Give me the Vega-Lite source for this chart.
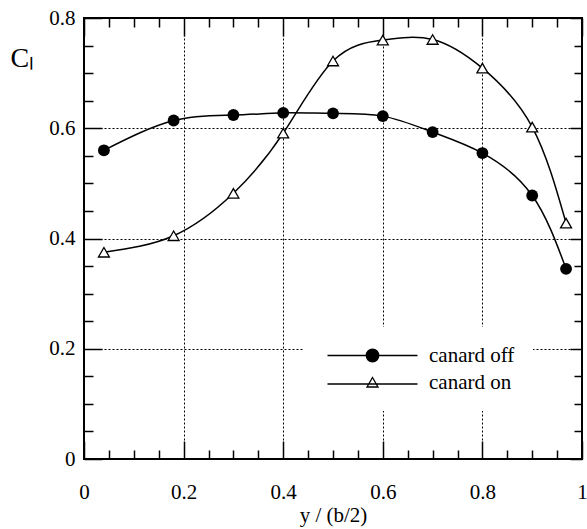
{
  "$schema": "https://vega.github.io/schema/vega-lite/v6.json",
  "width": 498,
  "height": 441,
  "autosize": {"type": "none"},
  "padding": {"left": 84, "top": 18, "right": 5, "bottom": 70},
  "background": "white",
  "config": {
    "view": {"stroke": "black", "strokeWidth": 2},
    "font": "Liberation Serif",
    "axis": {
      "domain": false,
      "labelFont": "Liberation Serif",
      "titleFont": "Liberation Serif",
      "labelFontSize": 21,
      "titleFontSize": 21,
      "titleFontWeight": "normal",
      "labelColor": "black",
      "titleColor": "black",
      "tickColor": "black",
      "tickWidth": 1.5,
      "gridColor": "black",
      "gridDash": [2, 2],
      "gridWidth": 1
    }
  },
  "data": {
    "values": [
      {"series": "canard off", "x": 0.04, "y": 0.56},
      {"series": "canard off", "x": 0.18, "y": 0.614},
      {"series": "canard off", "x": 0.3, "y": 0.624},
      {"series": "canard off", "x": 0.4, "y": 0.628},
      {"series": "canard off", "x": 0.5, "y": 0.627},
      {"series": "canard off", "x": 0.6, "y": 0.622},
      {"series": "canard off", "x": 0.7, "y": 0.593},
      {"series": "canard off", "x": 0.8, "y": 0.555},
      {"series": "canard off", "x": 0.9, "y": 0.478},
      {"series": "canard off", "x": 0.968, "y": 0.345},
      {"series": "canard on", "x": 0.04, "y": 0.375},
      {"series": "canard on", "x": 0.18, "y": 0.405},
      {"series": "canard on", "x": 0.3, "y": 0.482},
      {"series": "canard on", "x": 0.4, "y": 0.591},
      {"series": "canard on", "x": 0.5, "y": 0.722},
      {"series": "canard on", "x": 0.6, "y": 0.76},
      {"series": "canard on", "x": 0.7, "y": 0.761},
      {"series": "canard on", "x": 0.8, "y": 0.709},
      {"series": "canard on", "x": 0.9, "y": 0.602},
      {"series": "canard on", "x": 0.968, "y": 0.428}
    ]
  },
  "resolve": {"axis": {"x": "independent", "y": "independent"}},
  "layer": [
    {
      "mark": {"type": "line", "interpolate": "natural", "color": "black", "strokeWidth": 1.5},
      "encoding": {
        "x": {
          "field": "x", "type": "quantitative",
          "scale": {"domain": [0, 1], "nice": false},
          "axis": {
            "orient": "bottom",
            "title": "y / (b/2)",
            "values": [0, 0.05, 0.1, 0.15, 0.2, 0.25, 0.3, 0.35, 0.4, 0.45, 0.5, 0.55, 0.6, 0.65, 0.7, 0.75, 0.8, 0.85, 0.9, 0.95, 1],
            "labelExpr": "round(datum.value*20)%4==0 ? '' + round(datum.value*10)/10 : ''",
            "tickSize": {"condition": {"test": "round(datum.value*20)%4==0", "value": -18}, "value": -9},
            "grid": true,
            "gridOpacity": {"condition": {"test": "round(datum.value*20)%4==0 && datum.value > 0.01 && datum.value < 0.99", "value": 1}, "value": 0},
            "labelPadding": 40,
            "labelFlush": false,
            "labelOverlap": false,
            "titlePadding": -7
          }
        },
        "y": {
          "field": "y", "type": "quantitative",
          "scale": {"domain": [0, 0.8], "nice": false},
          "axis": {
            "orient": "left",
            "title": "Cₗ",
            "titleAngle": 0,
            "titleFontSize": 28,
            "titleAlign": "left",
            "titleBaseline": "middle",
            "titleX": -74,
            "titleY": 40,
            "values": [0, 0.05, 0.1, 0.15, 0.2, 0.25, 0.3, 0.35, 0.4, 0.45, 0.5, 0.55, 0.6, 0.65, 0.7, 0.75, 0.8],
            "labelExpr": "round(datum.value*20)%4==0 ? '' + round(datum.value*10)/10 : ''",
            "tickSize": {"condition": {"test": "round(datum.value*20)%4==0", "value": -18}, "value": -9},
            "grid": true,
            "gridOpacity": {"condition": {"test": "round(datum.value*20)%4==0 && datum.value > 0.01 && datum.value < 0.79", "value": 1}, "value": 0},
            "labelPadding": 27,
            "labelFlush": false,
            "labelOverlap": false
          }
        },
        "detail": {"field": "series"}
      }
    },
    {
      "transform": [{"filter": "datum.series == 'canard off'"}],
      "mark": {"type": "point", "shape": "circle", "filled": true, "color": "black", "size": 140, "opacity": 1},
      "encoding": {
        "x": {
          "field": "x", "type": "quantitative",
          "axis": {
            "orient": "top",
            "title": null,
            "labels": false,
            "grid": false,
            "values": [0, 0.05, 0.1, 0.15, 0.2, 0.25, 0.3, 0.35, 0.4, 0.45, 0.5, 0.55, 0.6, 0.65, 0.7, 0.75, 0.8, 0.85, 0.9, 0.95, 1],
            "tickSize": {"condition": {"test": "round(datum.value*20)%4==0", "value": -18}, "value": -9}
          }
        },
        "y": {
          "field": "y", "type": "quantitative",
          "axis": {
            "orient": "right",
            "title": null,
            "labels": false,
            "grid": false,
            "values": [0, 0.05, 0.1, 0.15, 0.2, 0.25, 0.3, 0.35, 0.4, 0.45, 0.5, 0.55, 0.6, 0.65, 0.7, 0.75, 0.8],
            "tickSize": {"condition": {"test": "round(datum.value*20)%4==0", "value": -12}, "value": -8}
          }
        }
      }
    },
    {
      "transform": [{"filter": "datum.series == 'canard on'"}],
      "mark": {"type": "point", "shape": "triangle-up", "filled": true, "fill": "white", "stroke": "black", "strokeWidth": 1.3, "size": 120, "opacity": 1},
      "encoding": {
        "x": {"field": "x", "type": "quantitative", "axis": null},
        "y": {"field": "y", "type": "quantitative", "axis": null}
      }
    },
    {
      "mark": {"type": "point", "filled": true, "stroke": "black", "size": 100, "opacity": 0},
      "encoding": {
        "x": {"field": "x", "type": "quantitative", "axis": null},
        "y": {"field": "y", "type": "quantitative", "axis": null},
        "shape": {
          "field": "series", "type": "nominal",
          "scale": {
            "domain": ["canard off", "canard on"],
            "range": [
              "M-9,0H9M1.25,0A1.25,1.25,0,1,1,-1.25,0A1.25,1.25,0,1,1,1.25,0Z",
              "M-9,0.3H9M0,-1L1.1,0.9L-1.1,0.9Z"
            ]
          },
          "legend": {
            "title": null,
            "orient": "none",
            "legendX": 220,
            "legendY": 309,
            "fillColor": "white",
            "padding": 18,
            "labelFont": "Liberation Serif",
            "labelFontSize": 21,
            "labelColor": "black",
            "symbolSize": 100,
            "symbolStrokeColor": "black",
            "symbolStrokeWidth": 1.3,
            "symbolOpacity": 1,
            "symbolOffset": 40,
            "labelOffset": 46,
            "rowPadding": 5,
            "encode": {"symbols": {"update": {"opacity": {"value": 1}, "strokeOpacity": {"value": 1}, "fillOpacity": {"value": 1}}}}
          }
        },
        "fill": {
          "field": "series", "type": "nominal",
          "scale": {"domain": ["canard off", "canard on"], "range": ["black", "white"]},
          "legend": {
            "title": null,
            "orient": "none",
            "legendX": 220,
            "legendY": 309,
            "fillColor": "white",
            "padding": 18,
            "labelFont": "Liberation Serif",
            "labelFontSize": 21,
            "labelColor": "black",
            "symbolSize": 100,
            "symbolStrokeColor": "black",
            "symbolStrokeWidth": 1.3,
            "symbolOpacity": 1,
            "symbolOffset": 40,
            "labelOffset": 46,
            "rowPadding": 5,
            "encode": {"symbols": {"update": {"opacity": {"value": 1}, "strokeOpacity": {"value": 1}, "fillOpacity": {"value": 1}}}}
          }
        }
      }
    }
  ]
}
